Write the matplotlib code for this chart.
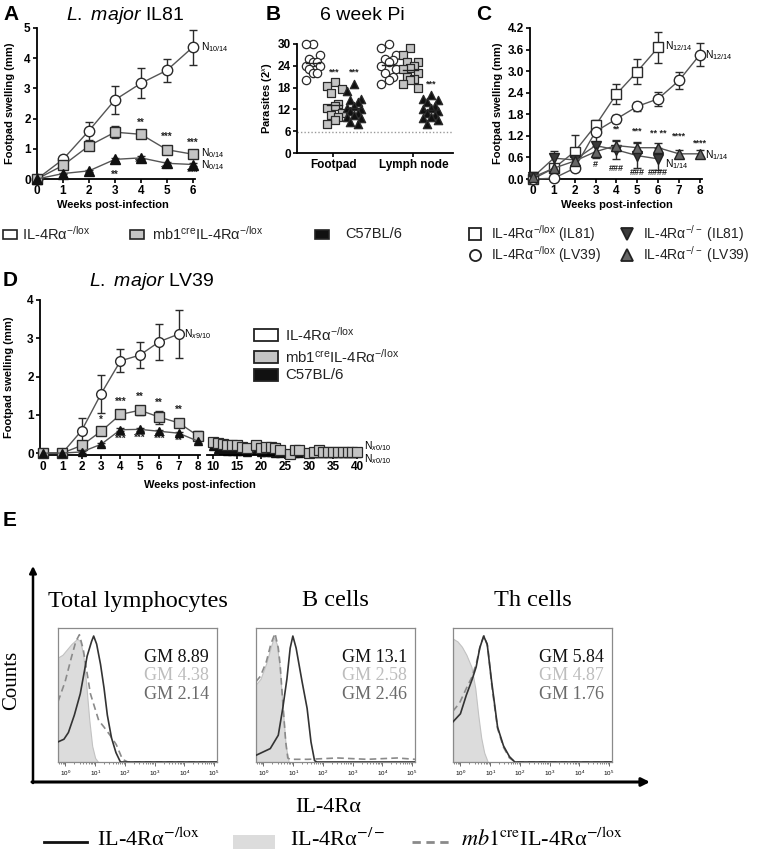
import matplotlib.pyplot as plt
import numpy as np
from matplotlib.patches import Rectangle

plt.rcParams['font.family'] = 'Liberation Sans'
plt.rcParams['mathtext.fontset'] = 'custom'
plt.rcParams['mathtext.rm'] = 'Liberation Sans'
plt.rcParams['mathtext.it'] = 'Liberation Sans:italic'
plt.rcParams['mathtext.bf'] = 'Liberation Sans:bold'

# ---- panel A: L. major IL81 footpad swelling
weeks_a = [0, 1, 2, 3, 4, 5, 6]
a_flox = [0, 0.65, 1.6, 2.62, 3.17, 3.6, 4.37]
a_flox_err = [0.02, 0.05, 0.3, 0.47, 0.5, 0.38, 0.58]
a_mb1 = [0, 0.45, 1.1, 1.55, 1.48, 0.97, 0.82]
a_mb1_err = [0, 0.05, 0.12, 0.2, 0.12, 0.1, 0.08]
a_b6 = [0, 0.18, 0.27, 0.65, 0.7, 0.52, 0.48]
a_b6_err = [0, 0.03, 0.03, 0.05, 0.05, 0.04, 0.04]
a_stars = [(4, 1.87, '**'), (5, 1.4, '***'), (6, 1.2, '***'),
           (3, 0.14, '**'), (4, 0.53, '***'), (5, 0.29, '***'), (6, 0.2, '***')]
a_nlabels = [(6.3, 4.37, 'N$_{10/14}$'), (6.3, 0.86, 'N$_{0/14}$'), (6.3, 0.45, 'N$_{0/14}$')]

# ---- panel B: parasite burden at 6 weeks (2^x)
fp_flox = [30, 30, 27, 26, 25, 25, 24, 24, 23, 22, 22, 20]
fp_mb1 = [19.5, 18.5, 17.5, 16.5, 13.5, 13, 12.5, 11, 10.5, 10, 9, 8]
fp_b6 = [19, 17, 15, 14.5, 14, 13, 12.5, 12, 11.5, 11, 10.5, 10, 9.5, 8.5, 8]
ln_flox = [30, 29, 27, 26, 25.5, 25, 24, 23, 22, 21, 20, 19]
ln_mb1 = [29, 27, 25, 25, 24, 23.5, 23, 22, 21, 20.5, 20, 19, 18]
ln_b6 = [16, 15, 14.5, 14, 13, 12.5, 12, 11.5, 11, 10.5, 10, 9.5, 9, 8]
b_detect = 5.8
b_stars = [(1.05, 22.3, '***'), (2, 22.3, '***'), (5.75, 19.0, '***')]

# ---- panel C: IL81 vs LV39
weeks_c = [0, 1, 2, 3, 4, 5, 6, 7, 8]
c_flox81 = [0, 0.3, 0.76, 1.49, 2.36, 2.99, 3.66]
c_flox81_err = [0.05, 0.1, 0.45, 0.16, 0.28, 0.36, 0.44]
c_flox39 = [0, 0.02, 0.3, 1.32, 1.67, 2.02, 2.23, 2.74, 3.46]
c_flox39_err = [0.02, 0.02, 0.05, 0.1, 0.12, 0.12, 0.2, 0.25, 0.33]
c_ko81 = [0.05, 0.58, 0.53, 0.93, 0.81, 0.65, 0.56]
c_ko81_err = [0.15, 0.2, 0.1, 0.35, 0.25, 0.35, 0.3]
c_ko39 = [0.05, 0.3, 0.5, 0.76, 0.93, 0.87, 0.87, 0.7, 0.7]
c_ko39_err = [0.05, 0.1, 0.1, 0.15, 0.15, 0.15, 0.12, 0.12, 0.1]
c_stars = [(4, 1.39, '**'), (5, 1.32, '***'), (6, 1.27, '** **'), (7, 1.2, '****'), (8, 1.0, '****'),
           (3, 0.39, '#'), (4, 0.3, '###'), (5, 0.18, '###'), (6, 0.18, '####')]
c_nlabels = [(6.35, 3.7, 'N$_{12/14}$'), (8.25, 3.46, 'N$_{12/14}$'),
             (6.35, 0.42, 'N$_{1/14}$'), (8.25, 0.66, 'N$_{1/14}$')]

# ---- panel D: L. major LV39, 0-8 weeks and 10-40 weeks
weeks_d = [0, 1, 2, 3, 4, 5, 6, 7, 8]
d_flox = [0, 0, 0.59, 1.55, 2.41, 2.56, 2.91, 3.11]
d_flox_err = [0.02, 0.02, 0.32, 0.5, 0.3, 0.33, 0.47, 0.63]
d_mb1 = [0, 0, 0.2, 0.57, 1.01, 1.12, 0.94, 0.79, 0.45]
d_mb1_err = [0, 0, 0.05, 0.08, 0.08, 0.12, 0.17, 0.1, 0.12]
d_b6 = [0, 0, 0.03, 0.23, 0.61, 0.62, 0.57, 0.52, 0.31]
d_b6_err = [0, 0, 0.02, 0.04, 0.04, 0.04, 0.04, 0.04, 0.04]
d_late_weeks = [10, 11, 12, 13, 14, 15, 16, 17, 19, 20, 21, 22, 23, 24, 26, 27, 28,
                30, 31, 32, 33, 34, 35, 36, 37, 38, 39, 40]
d_late_mb1 = [0.3, 0.27, 0.23, 0.2, 0.2, 0.2, 0.15, 0.13, 0.22, 0.13, 0.15, 0.15, 0.12, 0.08,
              -0.02, 0.08, 0.08, 0.0, 0.03, 0.08, 0.03, 0.03, 0.03, 0.03, 0.03, 0.03, 0.03, 0.03]
d_late_b6 = [0.18, 0.1, 0.08, 0.05, 0.05, 0.05, 0.05, 0.02, 0.08, 0.02, 0.02, 0.02, 0.0, 0.0,
             0, 0, 0, 0, 0, 0, 0, 0, 0, 0, 0, 0, 0, 0]
d_stars = [(3, 0.86, '*'), (4, 1.35, '***'), (5, 1.48, '**'), (6, 1.31, '**'), (7, 1.12, '**'),
           (4, 0.36, '***'), (5, 0.39, '***'), (6, 0.36, '***'), (7, 0.31, '**')]

# ---- panel E: IL-4Ra histograms (log10 fluorescence, relative count)
e_titles = ['Total lymphocytes', 'B cells', 'Th cells']
e_gm = [('8.89', '4.38', '2.14'), ('13.1', '2.58', '2.46'), ('5.84', '4.87', '1.76')]
solid_x = [[-0.25, -0.05, 0.1, 0.3, 0.5, 0.73, 0.88, 0.95, 1.05, 1.18, 1.3, 1.41, 1.55, 1.7, 1.85, 5.1],
           [-0.25, 0.23, 0.5, 0.65, 0.79, 0.9, 0.99, 1.1, 1.3, 1.47, 1.6, 1.72, 1.8, 5.1],
           [-0.25, 0.0, 0.2, 0.4, 0.53, 0.65, 0.78, 0.9, 1.05, 1.25, 1.45, 1.65, 1.83, 5.1]]
solid_h = [[0.15, 0.17, 0.22, 0.35, 0.51, 0.79, 0.9, 0.94, 0.88, 0.73, 0.55, 0.35, 0.18, 0.07, 0.0, 0.0],
           [0.05, 0.1, 0.2, 0.4, 0.62, 0.85, 0.94, 0.85, 0.6, 0.4, 0.15, 0.01, 0.0, 0.0],
           [0.3, 0.36, 0.5, 0.62, 0.71, 0.85, 0.94, 0.88, 0.6, 0.26, 0.12, 0.04, 0.0, 0.0]]
dash_x = [[-0.25, -0.01, 0.2, 0.35, 0.47, 0.6, 0.84, 1.12, 1.3, 1.5, 1.71, 1.92, 2.1, 5.1],
          [-0.25, -0.1, 0.1, 0.25, 0.39, 0.5, 0.56, 0.65, 0.75, 0.82, 0.9, 1.5, 2.5, 3.5, 4.5, 5.1],
          [-0.25, -0.03, 0.2, 0.4, 0.55, 0.68, 0.8, 0.92, 1.05, 1.25, 1.45, 1.65, 1.85, 5.1]]
dash_h = [[0.45, 0.6, 0.78, 0.9, 0.95, 0.84, 0.51, 0.31, 0.26, 0.2, 0.13, 0.02, 0.0, 0.0],
          [0.6, 0.64, 0.75, 0.88, 0.96, 0.85, 0.73, 0.45, 0.15, 0.03, 0.02, 0.02, 0.03, 0.02, 0.03, 0.02],
          [0.38, 0.44, 0.55, 0.64, 0.75, 0.88, 0.94, 0.86, 0.58, 0.25, 0.11, 0.03, 0.0, 0.0]]
grey_x = [[-0.25, -0.1, 0.05, 0.2, 0.3, 0.4, 0.5, 0.6, 0.7, 0.8, 0.9, 1.0, 1.1],
          [-0.25, -0.1, 0.1, 0.25, 0.35, 0.45, 0.55, 0.65, 0.75, 0.85],
          [-0.25, -0.1, 0.05, 0.2, 0.37, 0.5, 0.6, 0.7, 0.8, 0.92]]
grey_h = [[0.78, 0.8, 0.84, 0.88, 0.9, 0.92, 0.9, 0.8, 0.58, 0.32, 0.12, 0.03, 0.0],
          [0.58, 0.62, 0.74, 0.86, 0.93, 0.88, 0.7, 0.4, 0.12, 0.0],
          [0.92, 0.9, 0.86, 0.8, 0.71, 0.55, 0.35, 0.18, 0.07, 0.0]]

W, H = 757, 852
fig = plt.figure(figsize=(W / 100, H / 100), dpi=100)
bg = fig.add_axes([0, 0, 1, 1])
bg.set_xlim(0, W)
bg.set_ylim(H, 0)
bg.axis('off')


def place(l, t, r, b):
    return fig.add_axes([l / W, 1 - b / H, (r - l) / W, (b - t) / H])


LINE = '#555555'
EDGE = '#2a2a2a'
GREY = '#c4c4c4'


def prism(ax, left=True):
    ax.patch.set_alpha(0)
    for s in ['top', 'right']:
        ax.spines[s].set_visible(False)
    ax.spines['bottom'].set_linewidth(1.3)
    ax.spines['left'].set_linewidth(1.3)
    if not left:
        ax.spines['left'].set_visible(False)
        ax.tick_params(axis='y', left=False, labelleft=False)
    ax.tick_params(direction='out', length=3, width=1.2, labelsize=8.5, pad=1.5)
    for lab in ax.get_xticklabels() + ax.get_yticklabels():
        lab.set_fontweight('bold')


def series(ax, x, y, err, marker, mfc, ms=7, mec=EDGE, lc=LINE):
    ax.errorbar(x[:len(y)], y, yerr=err, marker=marker, ms=ms, mfc=mfc, mec=mec, mew=1,
                color=lc, lw=1, ecolor=EDGE, elinewidth=1, capsize=3, capthick=1,
                clip_on=False, zorder=3)


def annotate(ax, items, size=7):
    for x, y, s in items:
        ax.text(x, y, s, ha='center', va='center', fontsize=size, fontweight='bold', color='#222')


FLOX = 'IL-4Rα$^{\\mathrm{-/lox}}$'
KO = 'IL-4Rα$^{\\mathrm{-/-}}$'
MB1 = 'mb1$^{\\mathrm{cre}}$' + FLOX

# ---------------- A
axA = place(37, 28, 195, 179)
series(axA, weeks_a, a_flox, a_flox_err, 'o', 'white', ms=7.5)
series(axA, weeks_a, a_mb1, a_mb1_err, 's', GREY, ms=7)
series(axA, weeks_a, a_b6, a_b6_err, '^', '#111111', ms=6.5, mec='#111111')
axA.set_xlim(0, 6.08)
axA.set_ylim(0, 5)
axA.set_xticks(weeks_a)
axA.set_yticks(range(6))
annotate(axA, a_stars)
for x, y, s in a_nlabels:
    axA.text(x, y, s, fontsize=7.5, va='center', clip_on=False)
prism(axA)

bg.text(3, 14, 'A', fontsize=15, fontweight='bold', va='center')
bg.text(125, 15, r'$\it{L.\ major}$ IL81', fontsize=14, ha='center', va='center')
bg.text(10, 103, 'Footpad swelling (mm)', rotation=90, fontsize=8, fontweight='bold',
        ha='center', va='center')
bg.text(113, 205, 'Weeks post-infection', fontsize=8, fontweight='bold', ha='center', va='center')

# legend row under A/B
leg_a = [(3, 'white', FLOX, 22), (130, GREY, MB1, 152), (315, '#111111', 'C57BL/6', 345)]
for x0, fc, lab, tx in leg_a:
    bg.add_patch(Rectangle((x0, 230), 14, 9, fc=fc, ec='#222', lw=1.2))
    bg.text(tx, 234, lab, fontsize=10.5, va='center', color='#222')

# ---------------- B
axB = place(297, 44, 453, 153)
pattern = [0, -0.36, 0.36, -0.18, 0.18]
groups = [(fp_flox, 0, 'o', 'white'), (fp_mb1, 1.05, 's', GREY), (fp_b6, 2, '^', '#111111'),
          (ln_flox, 3.7, 'o', 'white'), (ln_mb1, 4.75, 's', GREY), (ln_b6, 5.75, '^', '#111111')]
for vals, pos, mk, fc in groups:
    order = np.argsort(vals)[::-1]
    xs = np.empty(len(vals))
    for k, i in enumerate(order):
        xs[i] = pos + pattern[k % 5]
    axB.scatter(xs, vals, s=36, marker=mk, facecolor=fc, edgecolor=EDGE, lw=0.9, zorder=3,
                clip_on=False)
    m = np.mean(vals)
    axB.plot([pos - 0.35, pos + 0.35], [m, m], color='#222', lw=1, zorder=4)
axB.axhline(b_detect, color='#999', lw=1, ls=(0, (1, 1.5)), zorder=1)
axB.set_xlim(-0.78, 6.83)
axB.set_ylim(0, 30)
axB.set_yticks([0, 6, 12, 18, 24, 30])
axB.set_xticks([1, 4.9])
axB.set_xticklabels(['Footpad', 'Lymph node'])
axB.tick_params(axis='x', length=0)
annotate(axB, b_stars, size=6.5)
prism(axB)
bg.text(266, 15, 'B', fontsize=15, fontweight='bold', va='center')
bg.text(362, 15, '6 week Pi', fontsize=14, ha='center', va='center')
bg.text(268, 98, 'Parasites (2$^x$)', rotation=90, fontsize=8, fontweight='bold',
        ha='center', va='center')

# ---------------- C
axC = place(530, 28, 702, 179)
series(axC, weeks_c, c_flox81, c_flox81_err, 's', 'white', ms=7)
series(axC, weeks_c, c_flox39, c_flox39_err, 'o', 'white', ms=7.5)
series(axC, weeks_c, c_ko81, c_ko81_err, 'v', '#3a3a3a', ms=7, mec='#222')
series(axC, weeks_c, c_ko39, c_ko39_err, '^', '#666666', ms=7, mec='#222')
axC.set_xlim(-0.14, 8.1)
axC.set_ylim(0, 4.2)
axC.set_xticks(weeks_c)
axC.set_yticks(np.arange(0, 4.3, 0.6))
axC.set_yticklabels(['%.1f' % v for v in np.arange(0, 4.3, 0.6)])
annotate(axC, c_stars, size=6.5)
for x, y, s in c_nlabels:
    axC.text(x, y, s, fontsize=7.5, va='center', clip_on=False)
prism(axC)
bg.text(476, 15, 'C', fontsize=15, fontweight='bold', va='center')
bg.text(498, 103, 'Footpad swelling (mm)', rotation=90, fontsize=8, fontweight='bold',
        ha='center', va='center')
bg.text(617, 205, 'Weeks post-infection', fontsize=8, fontweight='bold', ha='center', va='center')

leg_c = [(475, 234, 's', 'white', FLOX + ' (IL81)'),
         (627, 234, 'v', '#3a3a3a', KO + ' (IL81)'),
         (475, 255, 'o', 'white', FLOX + ' (LV39)'),
         (627, 255, '^', '#666666', KO + ' (LV39)')]
for x0, y0, mk, fc, lab in leg_c:
    bg.plot([x0], [y0], marker=mk, ms=8, mfc=fc, mec='#222', mew=1.3)
    bg.text(x0 + 16, y0, lab, fontsize=10, va='center', color='#222')

# ---------------- D
axD = place(40, 300, 200, 455)
series(axD, weeks_d, d_flox, d_flox_err, 'o', 'white', ms=7)
series(axD, weeks_d, d_mb1, d_mb1_err, 's', GREY, ms=6.5)
series(axD, weeks_d, d_b6, d_b6_err, '^', '#111111', ms=6, mec='#111111')
axD.set_xlim(-0.15, 8.1)
axD.set_ylim(-0.05, 4)
axD.set_xticks(weeks_d)
axD.set_yticks(range(5))
annotate(axD, d_stars, size=7)
axD.text(7.3, 3.11, 'N$_{x9/10}$', fontsize=7.5, va='center', clip_on=False)
prism(axD)

axD2 = place(207, 300, 360, 455)
axD2.plot(d_late_weeks, d_late_b6, marker='^', ms=5.5, mfc='#111111', mec='#111111',
          color=LINE, lw=1, clip_on=False, zorder=2)
axD2.plot(d_late_weeks, d_late_mb1, marker='s', ms=6.5, mfc=GREY, mec=EDGE, mew=0.9,
          color=LINE, lw=1, clip_on=False, zorder=3)
axD2.set_xlim(8.75, 40.6)
axD2.set_ylim(-0.05, 4)
axD2.set_xticks(range(10, 41, 5))
axD2.text(41.5, 0.18, 'N$_{x0/10}$', fontsize=7.5, va='center', clip_on=False)
axD2.text(41.5, -0.17, 'N$_{x0/10}$', fontsize=7.5, va='center', clip_on=False)
prism(axD2, left=False)

bg.text(3, 281, 'D', fontsize=15, fontweight='bold', va='center')
bg.text(152, 281, r'$\it{L.\ major}$ LV39', fontsize=14, ha='center', va='center')
bg.text(9, 377, 'Footpad swelling (mm)', rotation=90, fontsize=8, fontweight='bold',
        ha='center', va='center')
bg.text(200, 485, 'Weeks post-infection', fontsize=8, fontweight='bold', ha='center', va='center')
leg_d = [(335, 'white', FLOX), (357, GREY, MB1), (375, '#111111', 'C57BL/6')]
for y0, fc, lab in leg_d:
    bg.add_patch(Rectangle((254, y0 - 6), 24, 12, fc=fc, ec='#222', lw=1.3))
    bg.text(285, y0, lab, fontsize=10.8, va='center', color='#222')

# ---------------- E
SERIF = 'Liberation Serif'
bg.text(3, 521, 'E', fontsize=15, fontweight='bold', va='center')
boxes = [(58, 217), (256, 415), (453, 612)]
gm_cols = ['#111111', '#bdbdbd', '#6a6a6a']
for k, (l, r) in enumerate(boxes):
    ax = place(l, 628, r, 762)
    ax.fill_between(10 ** np.array(grey_x[k]), grey_h[k], color='#dcdcdc', lw=0.8,
                    edgecolor='#c2c2c2', zorder=1)
    ax.plot(10 ** np.array(dash_x[k]), dash_h[k], color='#8a8a8a', lw=1.2, ls=(0, (4, 2.5)), zorder=2)
    ax.plot(10 ** np.array(solid_x[k]), solid_h[k], color='#333333', lw=1.2, zorder=3)
    ax.set_xscale('log')
    ax.set_xlim(10 ** -0.25, 10 ** 5.1)
    ax.set_ylim(0, 1)
    ax.set_yticks([])
    ax.set_xticks([10 ** i for i in range(6)])
    ax.set_xticklabels(['10$^{%d}$' % i for i in range(6)])
    ax.tick_params(axis='x', labelsize=4.5, length=3, width=0.6, color='#555', pad=2)
    ax.tick_params(axis='x', which='minor', length=1.5, width=0.5, color='#555')
    for s in ax.spines.values():
        s.set_color('#8a8a8a')
        s.set_linewidth(0.9)
    for j, (val, col) in enumerate(zip(e_gm[k], gm_cols)):
        ax.text(0.95, 0.78 - 0.138 * j, 'GM ' + val, transform=ax.transAxes, fontsize=13,
                family=SERIF, color=col, ha='right', va='center', zorder=5)
    bg.text((l + r) / 2, 601, e_titles[k], fontsize=17.5, family=SERIF, ha='center', va='center')

bg.annotate('', xy=(33, 566), xytext=(33, 783),
            arrowprops=dict(arrowstyle='-|>', color='black', lw=1.8, mutation_scale=10,
                            shrinkA=0, shrinkB=0))
bg.annotate('', xy=(650, 782), xytext=(32, 782),
            arrowprops=dict(arrowstyle='-|>', color='black', lw=2.2, mutation_scale=12,
                            shrinkA=0, shrinkB=0))
bg.text(12, 680, 'Counts', rotation=90, fontsize=15, family=SERIF, ha='center', va='center')
bg.text(328, 808, 'IL-4Rα', fontsize=16, family=SERIF, ha='center', va='center')

E_FLOX = 'IL-4Rα$^{\\mathrm{-/lox}}$'
E_KO = 'IL-4Rα$^{\\mathrm{-/-}}$'
E_MB1 = r'$\mathit{mb1}^{\mathrm{cre}}$' + E_FLOX
bg.plot([44, 87], [842, 842], color='#111', lw=2)
bg.text(97, 840, E_FLOX, fontsize=16, family=SERIF, math_fontfamily='stix', va='center')
bg.add_patch(Rectangle((233, 835), 42, 14, fc='#dcdcdc', ec='none'))
bg.text(290, 840, E_KO, fontsize=16, family=SERIF, math_fontfamily='stix', va='center')
bg.plot([412, 450], [842, 842], color='#8a8a8a', lw=2, ls=(0, (3, 2)))
bg.text(461, 840, E_MB1, fontsize=16, family=SERIF, math_fontfamily='stix', va='center')

fig.savefig('out.png', dpi=100)
